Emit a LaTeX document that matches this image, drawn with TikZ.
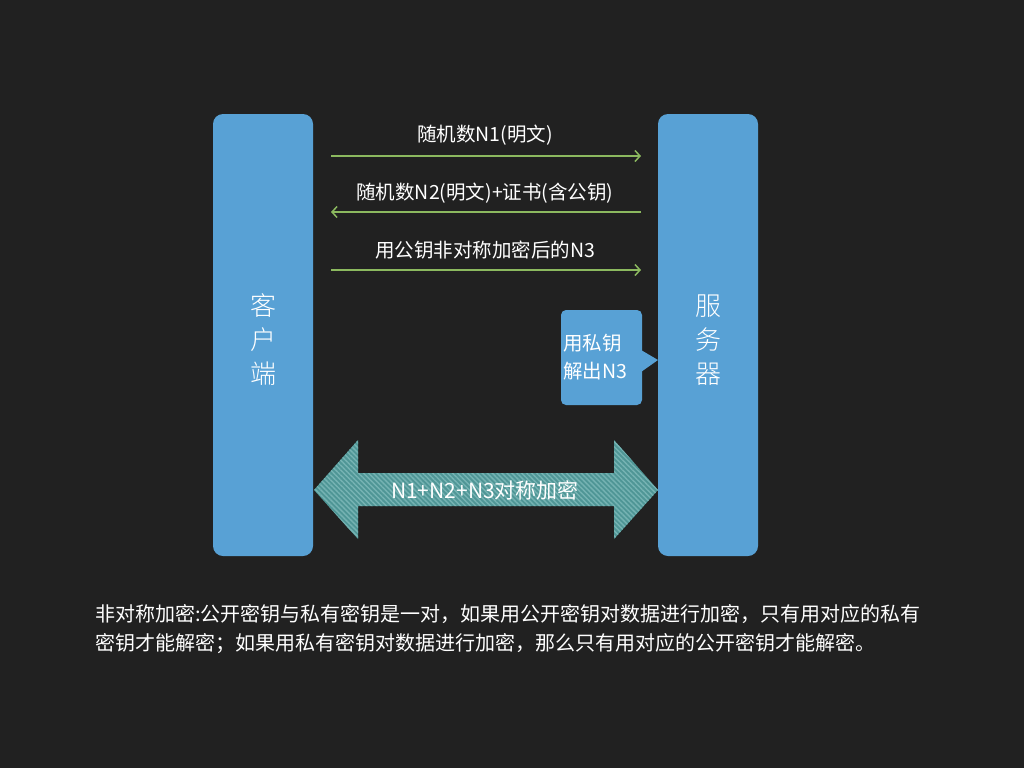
\documentclass[tikz,border=0pt]{standalone}
\usepackage{fontspec}
\setmainfont{Noto Sans CJK SC}
\newfontfamily\cjklight{Noto Sans CJK SC Light}
\usetikzlibrary{arrows.meta,patterns.meta}
\definecolor{bgc}{HTML}{212121}
\definecolor{boxblue}{HTML}{58A1D5}
\definecolor{arrgreen}{HTML}{8CB95F}
\definecolor{tealbase}{HTML}{4F9696}
\definecolor{tealstripe}{HTML}{76B3B3}
\tikzset{
  party/.style={fill=boxblue, rounded corners=10pt},
  msg/.style={draw=arrgreen, line width=1.5pt, -{Straight Barb[length=5pt,width=11pt,line width=1.5pt]}},
  lbl/.style={text=white, font=\fontsize{19.5}{21}\selectfont, inner sep=0pt},
  vlbl/.style={text=white, font=\cjklight\fontsize{26}{34}\selectfont, align=center, inner sep=0pt},
  note/.style={text=white, font=\fontsize{20}{22}\selectfont, inner sep=0pt, anchor=base west},
}
\begin{document}
\begin{tikzpicture}[x=1pt,y=-1pt]
\path[fill=bgc] (0,0) rectangle (1024,768);
\useasboundingbox (0,0) rectangle (1024,768);

% parties
\path[party] (213,114) rectangle (313,556);
\path[party] (658,114) rectangle (758,556);
\node[vlbl] (client) at (263,340) {客\\户\\端};
\node[vlbl] (server) at (708,340) {服\\务\\器};

% message arrows
\coordinate (c1) at (331,156); \coordinate (s1) at (641,156);
\coordinate (c2) at (331,212); \coordinate (s2) at (641,212);
\coordinate (c3) at (331,270); \coordinate (s3) at (641,270);
\draw[msg] (c1) -- (s1);
\draw[msg] (s2) -- (c2);
\draw[msg] (c3) -- (s3);
\node[lbl] (m1) at (485,135) {随机数N1(明文)};
\node[lbl] (m2) at (485,193) {随机数N2(明文)+证书(含公钥)};
\node[lbl] (m3) at (485,250) {用公钥非对称加密后的N3};

% callout
\path[fill=boxblue, rounded corners=5pt] (561,310) -- (642,310) -- (642,405) -- (561,405) -- cycle;
\path[fill=boxblue] (641,350) -- (658,360) -- (641,372) -- cycle;
\node[lbl, align=left, anchor=west, font=\fontsize{19.5}{28}\selectfont] (dec) at (563,357) {用私钥\\解出N3};

% double arrow
\def\dbl{(314,490) -- (358,440) -- (358,473) -- (614,473) -- (614,440) -- (658,490) -- (614,539) -- (614,506) -- (358,506) -- (358,539) -- cycle}
\path[fill=tealbase] \dbl;
\path[pattern={Lines[angle=-45,distance=3.5pt,line width=1.4pt]}, pattern color=tealstripe] \dbl;
\node[lbl, font=\fontsize{21}{23}\selectfont] (sym) at (485,490) {N1+N2+N3对称加密};

% note
\node[note] (n1) at (95,621) {非对称加密:公开密钥与私有密钥是一对，如果用公开密钥对数据进行加密，只有用对应的私有};
\node[note] (n2) at (95,650) {密钥才能解密；如果用私有密钥对数据进行加密，那么只有用对应的公开密钥才能解密。};
\end{tikzpicture}
\end{document}
